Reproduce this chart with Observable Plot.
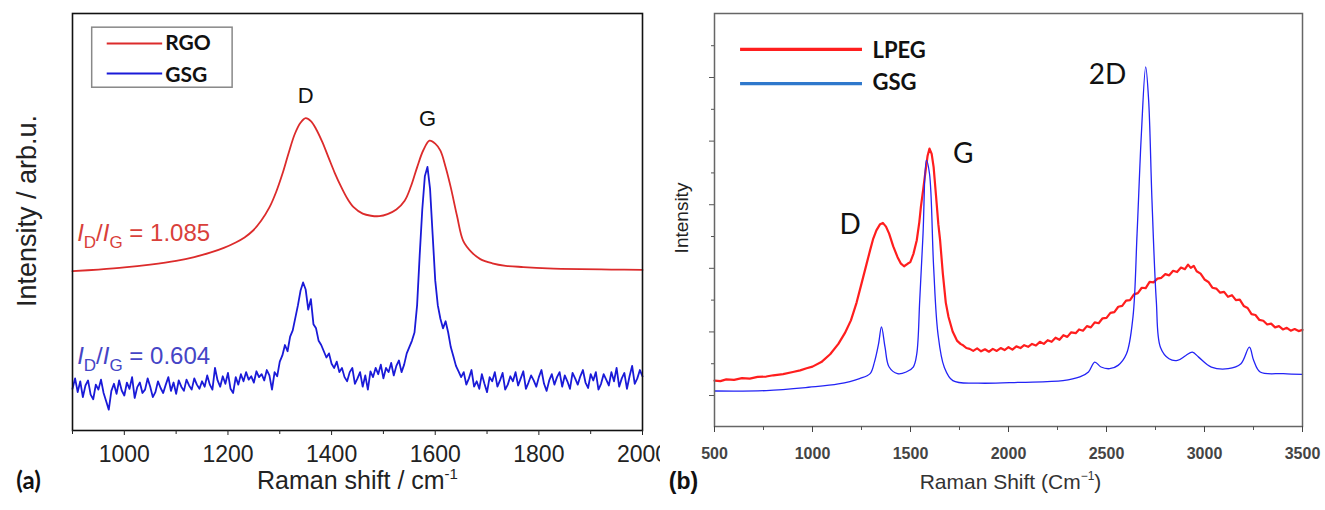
<!DOCTYPE html>
<html>
<head>
<meta charset="utf-8">
<script src="https://cdn.jsdelivr.net/npm/d3@7"></script>
<script src="https://cdn.jsdelivr.net/npm/@observablehq/plot@0.6"></script>
<style>
  html, body { margin: 0; padding: 0; background: #fff; }
  #wrap { position: relative; width: 1325px; height: 510px; overflow: hidden; background: #fff; }
  #left { position: absolute; left: 0; top: 0; }
  #right { position: absolute; left: 660px; top: 0; }
</style>
</head>
<body>
<div id="wrap"><div id="left"></div><div id="right"></div></div>
<script>
// ---------- Panel (a) data ----------
const rgoShift = [900,950,1000,1050,1100,1135,1167,1192,1215,1232,1248,1264,1280,1293,1305,1317,1329,1340,1350,1360,1370,1382,1394,1406,1419,1431,1443,1460,1476,1492,1508,1525,1541,1553,1565,1577,1589,1600,1610,1620,1630,1642,1654,1670,1687,1710,1736,1770,1817,1880,1940,2000];
const rgoInt   = [382,386,391,398,407,416,427,438,451,463,479,503,535,572,615,665,711,738,749,742,723,692,655,618,583,555,535,520,515,514,519,530,551,585,631,672,695,688,671,632,583,515,455,428,411,401,395,392,389,387,386,385];

// GSG in panel (a): [Raman shift, intensity]
const gsgAPoints = [
 [900,100],[905,125],[910,92],[915,118],[920,80],[925,108],[930,120],[935,86],[940,75],[945,110],
 [950,98],[955,122],[960,90],[965,70],[970,50],[975,95],[980,112],[985,88],[990,120],[995,96],
 [1000,84],[1005,115],[1010,100],[1015,128],[1020,78],[1025,104],[1030,115],[1035,90],[1040,98],[1045,125],
 [1050,105],[1055,80],[1060,92],[1065,118],[1070,102],[1075,90],[1080,110],[1085,128],[1090,95],[1095,115],
 [1100,88],[1105,120],[1110,105],[1115,95],[1120,122],[1125,108],[1130,98],[1135,125],[1140,110],[1145,100],
 [1150,118],[1155,105],[1160,132],[1165,110],[1170,98],[1175,150],[1180,120],[1185,105],[1190,130],[1195,112],
 [1200,138],[1205,100],[1210,90],[1215,128],[1220,110],[1225,135],[1230,118],[1235,140],[1240,122],[1245,130],
 [1250,115],[1255,142],[1260,128],[1265,135],[1270,120],[1275,145],[1280,132],[1285,98],[1290,140],[1295,130],
 [1300,165],[1305,180],[1310,205],[1315,190],[1320,225],[1325,240],[1330,270],[1335,300],[1340,335],[1345,355],
 [1350,338],[1355,290],[1360,315],[1365,255],[1370,245],[1375,215],[1380,205],[1385,190],[1390,175],[1395,185],
 [1400,160],[1405,150],[1410,165],[1415,140],[1420,150],[1425,128],[1430,118],[1435,140],[1440,150],[1445,112],
 [1450,125],[1455,140],[1460,105],[1465,132],[1470,98],[1475,142],[1480,128],[1485,150],[1490,135],[1495,158],
 [1500,125],[1505,150],[1510,140],[1515,162],[1520,132],[1525,155],[1530,168],[1535,140],[1540,158],[1545,185],
 [1550,200],[1555,215],[1560,235],[1565,300],[1570,420],[1575,530],[1580,610],[1585,632],[1590,580],[1595,470],
 [1600,360],[1605,300],[1610,268],[1615,245],[1620,262],[1625,235],[1630,200],[1635,178],[1640,155],[1645,142],
 [1650,128],[1655,140],[1660,110],[1665,125],[1670,145],[1675,105],[1680,118],[1685,100],[1690,135],[1695,112],
 [1700,92],[1705,128],[1710,118],[1715,140],[1720,105],[1725,120],[1730,138],[1735,98],[1740,110],[1745,130],
 [1750,118],[1755,140],[1760,108],[1765,125],[1770,142],[1775,100],[1780,115],[1785,132],[1790,120],[1795,105],
 [1800,128],[1805,145],[1810,112],[1815,95],[1820,120],[1825,135],[1830,110],[1835,128],[1840,140],[1845,105],
 [1850,132],[1855,118],[1860,100],[1865,138],[1870,125],[1875,110],[1880,130],[1885,145],[1890,115],[1895,102],
 [1900,135],[1905,120],[1910,140],[1915,98],[1920,112],[1925,135],[1930,122],[1935,108],[1940,140],[1945,118],
 [1950,150],[1955,105],[1960,125],[1965,138],[1970,100],[1975,130],[1980,155],[1985,112],[1990,125],[1995,145],
 [2000,130]
];

const ticksAMajor = [1000,1200,1400,1600,1800,2000];
const ticksAMinor = [900,1100,1300,1500,1700,1900];

// ---------- Panel (b) data ----------
// LPEG: [Raman shift, intensity]
const lpegPoints = [
 [500,111],[530,110],[560,114],[600,113],[640,117],[680,116],[720,120],[764,121],[800,124],[850,127],
 [900,132],[937,136],[970,141],[1000,145],[1045,156],[1090,175],[1132,200],[1165,226],[1196,257],[1225,300],
 [1250,346],[1275,392],[1294,427],[1310,455],[1326,475],[1345,490],[1359,493],[1375,484],[1391,467],[1412,436],
 [1434,410],[1450,395],[1467,388],[1485,394],[1499,398],[1515,418],[1532,451],[1545,495],[1553,532],[1565,575],
 [1575,612],[1587,655],[1597,673],[1608,660],[1618,628],[1630,560],[1642,490],[1651,451],[1665,370],[1680,300],
 [1694,265],[1715,230],[1737,208],[1755,200],[1770,196],[1785,190],[1802,188],[1820,183],[1840,189],[1860,182],
 [1880,187],[1900,181],[1920,188],[1940,183],[1960,190],[1980,185],[2000,192],[2020,186],[2040,194],[2061,190],
 [2080,197],[2100,193],[2120,200],[2140,196],[2160,205],[2180,200],[2200,209],[2220,205],[2240,215],[2260,210],
 [2280,221],[2300,217],[2320,228],[2343,226],[2360,235],[2380,232],[2400,243],[2420,240],[2440,252],[2460,250],
 [2480,262],[2500,263],[2520,275],[2540,277],[2560,290],[2580,292],[2600,305],[2620,306],[2640,320],[2660,323],
 [2680,336],[2700,335],[2720,350],[2740,349],[2760,358],[2780,360],[2800,369],[2820,366],[2840,377],[2860,374],
 [2880,385],[2900,381],[2916,392],[2930,384],[2945,389],[2960,376],[2980,370],[3000,356],[3020,350],[3040,336],
 [3060,334],[3080,324],[3100,326],[3120,314],[3140,318],[3160,306],[3180,307],[3200,292],[3220,287],[3240,272],
 [3260,270],[3280,258],[3300,256],[3320,247],[3340,249],[3360,240],[3380,243],[3400,235],[3420,239],[3440,232],
 [3460,236],[3480,231],[3500,234]
];

const gsgBShift = [500,764,980,1132,1240,1294,1316,1337,1352,1370,1391,1434,1478,1514,1532,1547,1564,1581,1597,1618,1640,1672,1716,1845,2061,2278,2364,2408,2440,2472,2516,2559,2602,2635,2656,2678,2700,2715,2732,2754,2775,2819,2862,2905,2938,2970,3035,3121,3186,3229,3251,3284,3402,3500];
const gsgBInt   = [86,87,95,103,116,128,156,200,241,192,144,128,132,144,176,305,467,645,612,386,225,144,111,105,107,111,120,132,156,144,140,148,176,265,467,709,871,790,548,305,192,164,160,172,180,168,144,140,152,192,160,132,128,126];

const ticksBMajor = [500,1000,1500,2000,2500,3000,3500];
const ticksBMinor = [750,1250,1750,2250,2750,3250];
const ticksBYMajor = [75,229,383,537,691,845];
const ticksBYMinor = [152,306,460,614,768,922];

const rgo = rgoShift.map((x, i) => ({x, y: rgoInt[i]}));
const gsgA = gsgAPoints.map(([x, y]) => ({x, y}));
const lpeg = lpegPoints.map(([x, y]) => ({x, y}));
const gsgB = gsgBShift.map((x, i) => ({x, y: gsgBInt[i]}));

const one = [0];
const SANS = "Liberation Sans, Arial, sans-serif";
const CAL = "Lato, Open Sans, sans-serif";
const plain = d => String(d);

// ---------- Panel (a) ----------
const left = Plot.plot({
  width: 660, height: 510,
  marginLeft: 72, marginRight: 18, marginTop: 13, marginBottom: 80,
  x: {domain: [900, 2000], axis: null},
  y: {domain: [0, 1000], axis: null},
  style: {fontFamily: SANS, background: "white", overflow: "visible"},
  marks: [
    Plot.line(rgo, {x: "x", y: "y", stroke: "#dc2b2b", strokeWidth: 1.8, curve: "catmull-rom"}),
    Plot.line(gsgA, {x: "x", y: "y", stroke: "#1a1ad8", strokeWidth: 1.8}),
    Plot.frame({stroke: "#111", strokeWidth: 1.6}),
    Plot.axisX(ticksAMajor, {anchor: "bottom", tickSize: 5, tickPadding: 10, fontSize: 23, tickFormat: plain, color: "#222", label: null}),
    Plot.axisX(ticksAMinor, {anchor: "bottom", tickSize: 4, tickFormat: () => "", color: "#222", label: null}),
    // legend
    Plot.rect(one, {x1: 938, x2: 1209, y1: 822, y2: 966, fill: "white", stroke: "#888", strokeWidth: 1.5}),
    Plot.ruleY(one, {y: 928, x1: 967, x2: 1074, stroke: "#dc2b2b", strokeWidth: 2}),
    Plot.ruleY(one, {y: 856, x1: 967, x2: 1074, stroke: "#1a1ad8", strokeWidth: 2}),
    Plot.text(["RGO"], {x: 1079, y: 929, text: d => d, textAnchor: "start", fontSize: 21, fontWeight: "bold", fontFamily: CAL, fill: "#111"}),
    Plot.text(["GSG"], {x: 1079, y: 852, text: d => d, textAnchor: "start", fontSize: 21, fontWeight: "bold", fontFamily: CAL, fill: "#111"}),
    // peak labels
    Plot.text(["D"], {x: 1350, y: 803, text: d => d, fontSize: 22, fill: "#111"}),
    Plot.text(["G"], {x: 1585, y: 746, text: d => d, fontSize: 22, fill: "#111"}),
    // ratios
    Plot.text(["1.085"], {x: 909, y: 472, text: d => d, textAnchor: "start", fontSize: 24, fill: "#d9403a"}),
    Plot.text(["0.604"], {x: 909, y: 178, text: d => d, textAnchor: "start", fontSize: 24, fill: "#4545c6"}),
    // axis titles
    Plot.text(["Raman shift / cm"], {frameAnchor: "bottom", textAnchor: "middle", dy: 58, text: d => d, fontSize: 25, fill: "#222"}),
    Plot.text(["(a)"], {frameAnchor: "bottom-left", textAnchor: "middle", dx: -44, dy: 58, text: d => d, fontSize: 24, fontWeight: "bold", fontFamily: CAL, fill: "#111"}),
    Plot.text(["Intensity / arb.u."], {frameAnchor: "left", textAnchor: "middle", rotate: -90, dx: -45, dy: -11, text: d => d, fontSize: 27, fill: "#222"})
  ]
});
document.getElementById("left").appendChild(left);

// ---------- Panel (b) ----------
const right = Plot.plot({
  width: 665, height: 510,
  marginLeft: 54, marginRight: 23, marginTop: 13, marginBottom: 84,
  x: {domain: [500, 3500], axis: null},
  y: {domain: [0, 1000], axis: null},
  style: {fontFamily: SANS, background: "white", overflow: "visible"},
  marks: [
    Plot.line(lpeg, {x: "x", y: "y", stroke: "#ff1e1e", strokeWidth: 2.2}),
    Plot.line(gsgB, {x: "x", y: "y", stroke: "#2323f5", strokeWidth: 1.3, curve: "catmull-rom"}),
    Plot.frame({stroke: "#666", strokeWidth: 1.5}),
    Plot.axisX(ticksBMajor, {anchor: "bottom", tickSize: 6, tickPadding: 15, fontSize: 16, fontWeight: "bold", tickFormat: plain, color: "#444", label: null}),
    Plot.axisX(ticksBMinor, {anchor: "bottom", tickSize: 4, tickFormat: () => "", color: "#555", label: null}),
    Plot.axisY(ticksBYMajor, {anchor: "left", tickSize: 5, tickFormat: () => "", color: "#555", label: null}),
    Plot.axisY(ticksBYMinor, {anchor: "left", tickSize: 3, tickFormat: () => "", color: "#555", label: null}),
    // legend
    Plot.ruleY(one, {y: 913, x1: 633, x2: 1255, stroke: "#ff1e1e", strokeWidth: 3.2}),
    Plot.ruleY(one, {y: 830, x1: 633, x2: 1255, stroke: "#2f78cc", strokeWidth: 3.2}),
    Plot.text(["LPEG"], {x: 1306, y: 910, text: d => d, textAnchor: "start", fontSize: 22, fontWeight: "bold", fontFamily: CAL, fill: "#111"}),
    Plot.text(["GSG"], {x: 1306, y: 832, text: d => d, textAnchor: "start", fontSize: 22, fontWeight: "bold", fontFamily: CAL, fill: "#111"}),
    // peak labels
    Plot.text(["D"], {x: 1192, y: 487, text: d => d, fontSize: 28, fontFamily: CAL, fill: "#111"}),
    Plot.text(["G"], {x: 1769, y: 659, text: d => d, fontSize: 28, fontFamily: CAL, fill: "#111"}),
    Plot.text(["2D"], {x: 2505, y: 850, text: d => d, fontSize: 28, fontFamily: CAL, fill: "#111"}),
    // axis titles
    Plot.text(["Raman Shift (Cm"], {frameAnchor: "bottom", textAnchor: "middle", dx: 2, dy: 62, text: d => d, fontSize: 21, fill: "#333"}),
    Plot.text(["(b)"], {frameAnchor: "bottom-left", textAnchor: "middle", dx: -31, dy: 62, text: d => d, fontSize: 23, fontWeight: "bold", fontFamily: SANS, fill: "#111"}),
    Plot.text(["Intensity"], {frameAnchor: "left", textAnchor: "middle", rotate: -90, dx: -33, dy: -2, text: d => d, fontSize: 19, fill: "#222"})
  ]
});
document.getElementById("right").appendChild(right);

// ---------- rich text (sub/superscripts) ----------
function byText(svg, s) {
  return d3.select(svg).selectAll("text").filter(function() { return this.textContent === s; });
}
["1.085", "0.604"].forEach(v => {
  byText(left, v).each(function() {
    const t = d3.select(this).text("");
    t.append("tspan").attr("font-style", "italic").text("I");
    t.append("tspan").attr("dy", 7).attr("font-size", 17).text("D");
    t.append("tspan").attr("dy", -7).text("/");
    t.append("tspan").attr("font-style", "italic").text("I");
    t.append("tspan").attr("dy", 7).attr("font-size", 17).text("G");
    t.append("tspan").attr("dy", -7).text(" = " + v);
  });
});
byText(left, "Raman shift / cm").each(function() {
  d3.select(this).append("tspan").attr("dy", -10).attr("font-size", 15).text("-1");
});
byText(right, "Raman Shift (Cm").each(function() {
  const t = d3.select(this);
  t.append("tspan").attr("dy", -9).attr("font-size", 12).text("\u22121");
  t.append("tspan").attr("dy", 9).text(")");
});
</script>
</body>
</html>
